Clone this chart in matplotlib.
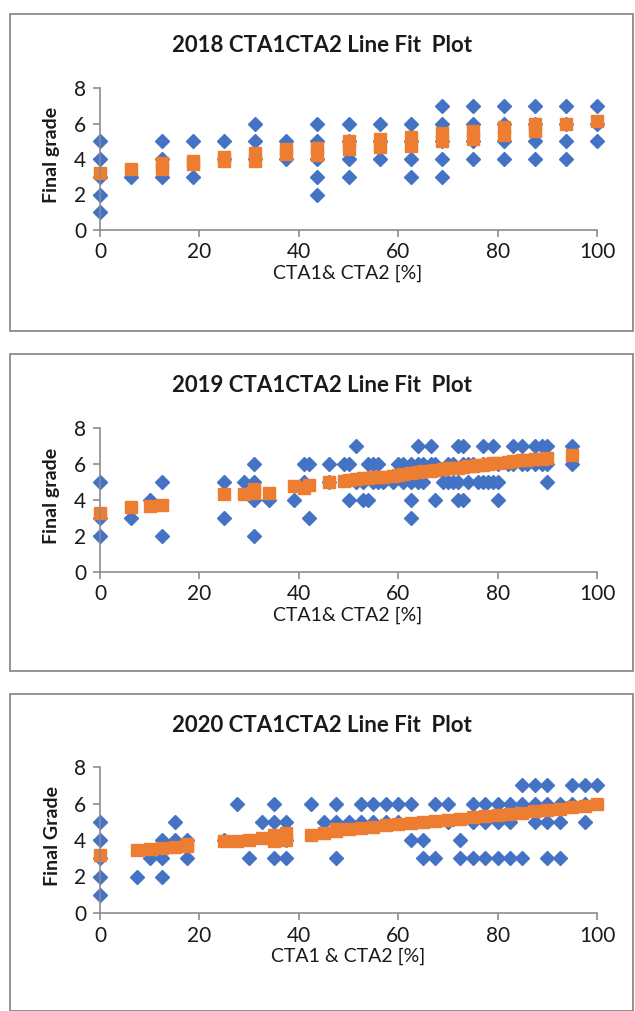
import matplotlib
matplotlib.use('Agg')
import matplotlib.pyplot as plt
from matplotlib.patches import Rectangle

plt.rcParams['font.family'] = ['Lato', 'DejaVu Sans']

# 2018: x positions, observed grades and predicted (line fit) values
x_2018 = [0, 6.25, 12.5, 18.75, 25, 31.25, 37.5, 43.75, 50, 56.25, 62.5,
          68.75, 75, 81.25, 87.5, 93.75, 100]
grade_2018 = [[5, 4, 3, 2, 1], [3], [5, 4, 3], [5, 3], [5, 4], [6, 5, 4],
              [5, 4], [6, 5, 4, 3, 2], [6, 5, 4, 3], [6, 5, 4], [6, 5, 4, 3],
              [7, 6, 5, 4, 3], [7, 6, 5, 4], [7, 6, 5, 4], [7, 6, 5, 4],
              [7, 6, 5, 4], [7, 6, 5]]
pred_2018 = [[3.2], [3.45], [3.45, 3.75], [3.7, 3.9], [3.9, 4.1], [3.9, 4.35],
             [4.3, 4.55], [4.25, 4.6], [4.55, 5.0], [4.65, 5.1], [4.75, 5.25],
             [5.0, 5.45], [5.1, 5.55], [5.35, 5.8], [5.6, 5.95], [6.0], [6.15]]

# 2019
x_2019 = [0, 6.25, 10, 12.5, 25, 29, 31, 34, 39, 41, 42, 46, 49, 50, 51.5,
          53, 54, 55, 56, 57, 59, 60, 61, 62.5, 64, 65, 66.5, 67.5, 69, 70,
          71, 72, 73, 74, 75, 76, 77, 78, 79, 80, 82, 83, 85, 86, 87.5, 89,
          90, 95]
grade_2019 = [[5, 3, 2], [3], [4], [5, 2], [5, 3], [5], [6, 5, 4, 2], [4],
              [4], [6, 5], [6, 3], [6, 5], [6], [6, 4], [7, 5], [5, 4],
              [6, 4], [6, 5], [6, 5], [5], [5], [6], [6, 5], [6, 5, 4, 3],
              [7, 6, 5], [6, 5], [7, 6], [6, 4], [5], [6, 5], [6, 5],
              [7, 5, 4], [7, 6, 4], [6, 5], [6], [5], [7, 6, 5], [6, 5],
              [7, 5], [6, 5, 4], [6], [7, 6], [7, 6], [6], [7, 6], [7, 6],
              [7, 6, 5], [7, 6]]
pred_2019 = [[3.3], [3.6], [3.65], [3.75], [4.35], [4.35], [4.4, 4.6], [4.4],
             [4.8], [4.65], [4.85], [5.0], [5.05], [5.1], [5.15], [5.2],
             [5.2], [5.25], [5.3], [5.3], [5.35], [5.4], [5.45], [5.5],
             [5.55], [5.6], [5.6], [5.65], [5.7], [5.75], [5.8], [5.8],
             [5.85], [5.9], [5.9], [5.95], [5.95], [6.0], [6.05], [6.05],
             [6.1], [6.15], [6.2], [6.2], [6.25], [6.3], [6.35], [6.5]]

# 2020
x_2020 = [0, 7.5, 10, 12.5, 15, 17.5, 25, 27.5, 30, 32.5, 35, 37.5, 42.5, 45,
          47.5, 50, 52.5, 55, 57.5, 60, 62.5, 65, 67.5, 70, 72.5, 75, 77.5,
          80, 82.5, 85, 87.5, 90, 92.5, 95, 97.5, 100]
grade_2020 = [[5, 4, 3, 2, 1], [2], [3], [4, 3, 2], [5, 4], [4, 3], [4], [6],
              [3], [5], [6, 5, 3], [5, 4, 3], [6], [5], [6, 5, 3], [5],
              [6, 5], [6, 5], [6, 5], [6, 5], [6, 4], [4, 3], [6, 3], [6, 5],
              [4, 3], [6, 5, 3], [6, 5, 3], [6, 5, 3], [6, 5, 3], [7, 6, 3],
              [7, 6, 5], [7, 6, 5, 3], [6, 5, 3], [7, 6], [7, 6, 5], [7]]
pred_2020 = [[3.2], [3.45], [3.5], [3.55], [3.6], [3.65, 3.8], [3.95], [3.95],
             [4.0], [4.1], [3.95, 4.3], [4.0, 4.4], [4.3], [4.4], [4.5, 4.6],
             [4.6], [4.65], [4.7], [4.8], [4.85], [4.95], [5.0], [5.05],
             [5.1], [5.15], [5.25], [5.3], [5.35], [5.45], [5.5], [5.6],
             [5.65], [5.7], [5.8], [5.85], [5.95]]

panels = [
    ('2018 CTA1CTA2 Line Fit  Plot', 'Final grade', 'CTA1& CTA2 [%]',
     x_2018, grade_2018, pred_2018, 0, 88, 230),
    ('2019 CTA1CTA2 Line Fit  Plot', 'Final grade', 'CTA1& CTA2 [%]',
     x_2019, grade_2019, pred_2019, 340, 428, 572),
    ('2020 CTA1CTA2 Line Fit  Plot', 'Final Grade', 'CTA1 & CTA2 [%]',
     x_2020, grade_2020, pred_2020, 680, 767, 913),
]

W, H = 635, 1011
fig = plt.figure(figsize=(W / 100, H / 100), dpi=100)
fig.patch.set_facecolor('white')

blue = '#4472C4'
orange = '#ED7D31'
axis_grey = '#8C8C8C'
ink = '#1a1a1a'

for title, ylab, xlab, xs, grades, preds, off, top, bot in panels:
    # outer chart border
    fig.patches.append(Rectangle((10 / W, 1 - (off + 331) / H), 623 / W, 317 / H,
                                 transform=fig.transFigure, fill=False,
                                 edgecolor='#8A8A8A', linewidth=1.3))
    ax = fig.add_axes([100 / W, 1 - bot / H, 497 / W, (bot - top) / H])
    ox, oy = [], []
    for x, g in zip(xs, grades):
        ox += [x] * len(g)
        oy += g
    px, py = [], []
    for x, p in zip(xs, preds):
        px += [x] * len(p)
        py += p
    ax.plot(ox, oy, linestyle='none', marker='D', markersize=7,
            color=blue, clip_on=False)
    ax.plot(px, py, linestyle='none', marker='s', markersize=8.6,
            color=orange, clip_on=False)
    ax.set_xlim(0, 100)
    ax.set_ylim(0, 8)
    ax.set_xticks(range(0, 101, 20))
    ax.set_yticks(range(0, 9, 2))
    for s in ['top', 'right']:
        ax.spines[s].set_visible(False)
    for s in ['left', 'bottom']:
        ax.spines[s].set_color(axis_grey)
        ax.spines[s].set_linewidth(1.2)
    ax.tick_params(axis='both', direction='out', length=5, width=1.2,
                   color=axis_grey, labelsize=15, labelcolor=ink)
    ax.tick_params(axis='x', pad=4)
    ax.tick_params(axis='y', pad=5)
    fig.text(322 / W, 1 - (off + 45) / H, title, ha='center', va='center',
             fontsize=16, fontweight='bold', color=ink)
    fig.text(52 / W, 1 - (top + bot) / 2 / H + 0.004, ylab, ha='center',
             va='center', rotation=90, fontsize=14, fontweight='bold',
             color=ink)
    fig.text(348 / W, 1 - (bot + 43) / H, xlab, ha='center', va='center',
             fontsize=14, color=ink)

plt.savefig('out.png', dpi=100)
